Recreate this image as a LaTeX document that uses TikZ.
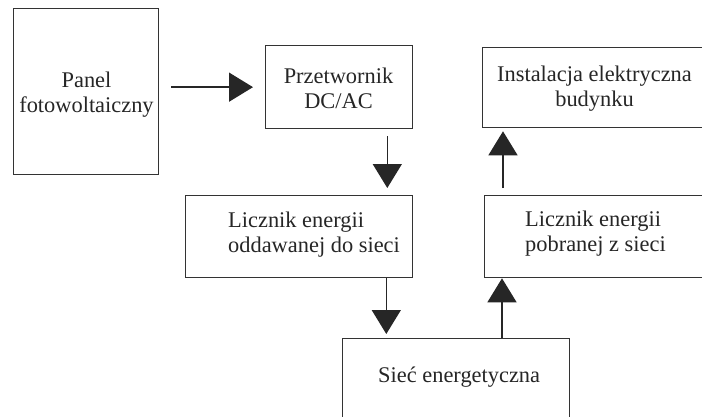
\documentclass[tikz,border=0pt]{standalone}
\usepackage{fontspec}
\setmainfont{Liberation Serif}
\usetikzlibrary{arrows.meta,calc}
\tikzset{
  box/.style={draw=black!80, line width=1.3pt, anchor=north west, inner sep=0pt},
  lbl/.style={inner sep=0pt, text=black!85, font=\fontsize{22.4}{24.5}\selectfont},
  arr/.style={draw=black!85, line width=1.4pt, -{Triangle[length=24pt,width=29pt]}}
}
\begin{document}
\begin{tikzpicture}[x=1pt,y=-1pt]
\path[use as bounding box, clip] (0,0) rectangle (702,416);
\fill[white] (0,0) rectangle (702,416);
% boxes
\node[box, minimum width=145pt, minimum height=166pt] (panel) at (13,8) {};
\node[box, minimum width=147pt, minimum height=83pt] (przet) at (265,45) {};
\node[box, minimum width=230pt, minimum height=80pt] (inst) at (482,47) {};
\node[box, minimum width=227pt, minimum height=82pt] (odd) at (185,195) {};
\node[box, minimum width=230pt, minimum height=82pt] (pob) at (484,195) {};
\node[box, minimum width=227pt, minimum height=90pt] (siec) at (342,338) {};
% texts (base anchor = baseline of the last line)
\node[lbl, anchor=base, align=center] (tpanel) at (86.5,112) {Panel\\fotowoltaiczny};
\node[lbl, anchor=base, align=center] (tprzet) at (338.5,108) {Przetwornik\\DC/AC};
\node[lbl, anchor=base, align=center] (tinst) at (594.5,106) {Instalacja elektryczna\\budynku};
\node[lbl, anchor=base west, align=left] (todd) at (228,252) {Licznik energii\\oddawanej do sieci};
\node[lbl, anchor=base west, align=left] (tpob) at (525,251) {Licznik energii\\pobranej z sieci};
\node[lbl, anchor=base west] (tsiec) at (378,382) {Sieć energetyczna};
% connectors
\draw[arr, shorten <=12pt, shorten >=12pt] (panel.east |- przet.west) -- (przet.west);
\draw[arr, shorten <=7pt, shorten >=7pt] ([xshift=-26pt]przet.south east) -- ([xshift=-26pt]odd.north east);
\draw[arr, shorten >=4pt] ([xshift=-27pt]odd.south east) -- ([xshift=-27pt]odd.south east |- siec.north);
\coordinate (pobin) at ([xshift=18pt]pob.south west);
\draw[arr] (siec.north -| pobin) -- (pobin);
\coordinate (pobout) at ([xshift=19pt]pob.north west);
\draw[arr, shorten <=7pt, shorten >=3pt] (pobout) -- (pobout |- inst.south);
\end{tikzpicture}
\end{document}
